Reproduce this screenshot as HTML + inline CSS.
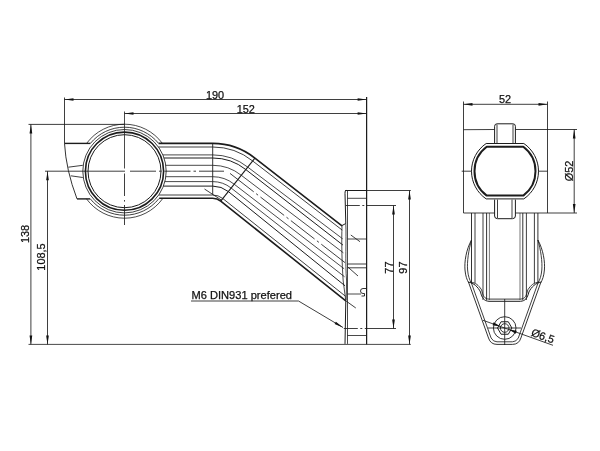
<!DOCTYPE html>
<html><head><meta charset="utf-8"><title>Drawing</title>
<style>
html,body{margin:0;padding:0;background:#fff;}
svg{display:block;filter:grayscale(1);}
svg *{vector-effect:none;}
text{font-family:"Liberation Sans",sans-serif;fill:#111;stroke:#111;stroke-width:0.25px;}
</style></head><body>
<svg width="600" height="451" viewBox="0 0 600 451" fill="none" stroke="#1c1c1c" stroke-linecap="butt" stroke-linejoin="round">
<rect x="0" y="0" width="600" height="451" fill="#ffffff" stroke="none"/>
<path d="M86.60,143.40 A47,47 0 0 1 162.40,143.40" stroke-width="0.8" />
<path d="M90.39,143.40 A44,44 0 0 1 158.61,143.40" stroke-width="0.85" />
<path d="M86.31,198.60 A47,47 0 0 0 162.69,198.60" stroke-width="0.8" />
<path d="M90.07,198.60 A44,44 0 0 0 158.93,198.60" stroke-width="0.85" />
<circle cx="124.50" cy="171.20" r="41.70" stroke-width="0.85" />
<circle cx="124.50" cy="171.20" r="39.10" stroke-width="1.6" />
<circle cx="124.50" cy="171.20" r="36.50" stroke-width="1.0" />
<line x1="64.50" y1="143.40" x2="90.39" y2="143.40" stroke-width="1.4" />
<path d="M64.5,143.4 Q66,170 77,198.9" stroke-width="0.9" />
<line x1="77.00" y1="198.90" x2="90.07" y2="198.90" stroke-width="1.4" />
<line x1="68.30" y1="167.20" x2="82.80" y2="165.30" stroke-width="0.85" />
<line x1="70.80" y1="175.80" x2="82.80" y2="177.50" stroke-width="0.85" />
<path d="M158.61,143.40 L212.70,143.40 A67.80,67.80 0 0 1 254.91,158.14 L342.00,225.80" stroke-width="1.6" />
<path d="M158.46,147.00 L212.70,147.00 A64.20,64.20 0 0 1 252.67,160.96 L342.22,230.10" stroke-width="0.85" />
<path d="M162.88,154.90 L212.70,154.90 A56.30,56.30 0 0 1 247.75,167.14 L342.66,238.80" stroke-width="0.8" />
<path d="M164.06,158.00 L212.70,158.00 A53.20,53.20 0 0 1 245.82,169.57 L342.98,245.10" stroke-width="1.0" />
<path d="M165.78,165.30 L212.70,165.30 A45.90,45.90 0 0 1 241.27,175.28 L343.37,252.80" stroke-width="0.8" />
<path d="M165.84,176.70 L212.70,176.70 A34.50,34.50 0 0 1 234.18,184.20 L344.18,268.80" stroke-width="0.8" />
<path d="M164.88,181.60 L212.70,181.60 A29.60,29.60 0 0 1 231.13,188.03 L344.58,276.80" stroke-width="0.8" />
<path d="M163.45,186.10 L212.70,186.10 A25.10,25.10 0 0 1 228.33,191.56 L345.04,285.80" stroke-width="1.0" />
<path d="M158.74,195.00 L212.70,195.00 A16.20,16.20 0 0 1 222.78,198.52 L345.57,296.30" stroke-width="0.85" />
<path d="M159.16,198.30 L212.70,198.30 A12.90,12.90 0 0 1 220.73,201.10 L345.80,300.80" stroke-width="1.6" />
<line x1="212.70" y1="143.40" x2="212.70" y2="194.70" stroke-width="0.9" />
<line x1="204.50" y1="189.00" x2="222.00" y2="200.50" stroke-width="0.85" />
<line x1="254.91" y1="158.14" x2="220.73" y2="201.10" stroke-width="1.1" />
<line x1="45.00" y1="171.20" x2="125.00" y2="171.20" stroke-width="0.85" />
<line x1="130.00" y1="171.20" x2="224.00" y2="171.20" stroke-width="0.85" stroke-dasharray="26 3 2.5 3"/>
<line x1="230.02" y1="173.42" x2="347.82" y2="264.80" stroke-width="0.85" stroke-dasharray="30 3 2.5 3"/>
<line x1="124.50" y1="111.50" x2="124.50" y2="168.50" stroke-width="0.8" />
<line x1="124.50" y1="173.50" x2="124.50" y2="196.00" stroke-width="0.85" />
<line x1="124.50" y1="200.00" x2="124.50" y2="201.60" stroke-width="0.85" />
<line x1="124.50" y1="205.00" x2="124.50" y2="225.00" stroke-width="0.85" />
<line x1="366.60" y1="97.00" x2="366.60" y2="344.40" stroke-width="1.25" />
<line x1="345.30" y1="190.50" x2="410.80" y2="190.50" stroke-width="0.85" />
<line x1="345.30" y1="190.50" x2="366.60" y2="190.50" stroke-width="1.0" />
<path d="M346.3,190.5 Q344.6,190.5 345,193.5 L345.8,223.5 L341.5,225.8" stroke-width="1.0" />
<line x1="347.50" y1="190.50" x2="347.50" y2="343.90" stroke-width="0.8" />
<path d="M345.8,300.8 L345,343.9" stroke-width="1.0" />
<line x1="347.50" y1="198.30" x2="366.60" y2="198.30" stroke-width="0.8" />
<line x1="347.50" y1="239.00" x2="366.60" y2="239.00" stroke-width="0.8" />
<line x1="347.50" y1="264.00" x2="366.60" y2="264.00" stroke-width="0.85" />
<line x1="347.50" y1="267.80" x2="366.60" y2="267.80" stroke-width="0.85" />
<line x1="347.50" y1="335.50" x2="366.60" y2="335.50" stroke-width="0.8" />
<line x1="347.50" y1="294.00" x2="361.00" y2="294.00" stroke-width="0.8" />
<path d="M366.7,288.5 L363,288.5 A2.4,2.4 0 0 0 363,293.5 L364.5,293.5 L364.5,296 L361.5,296" stroke-width="0.9" />
<line x1="350.80" y1="235.00" x2="360.00" y2="241.70" stroke-width="0.85" />
<line x1="347.50" y1="266.70" x2="358.00" y2="276.00" stroke-width="0.85" />
<line x1="345.80" y1="300.80" x2="355.80" y2="308.00" stroke-width="0.85" />
<line x1="345.80" y1="205.50" x2="372.00" y2="205.50" stroke-width="0.85" stroke-dasharray="14 2.5 2 2.5"/>
<line x1="372.00" y1="205.50" x2="396.00" y2="205.50" stroke-width="0.85" />
<line x1="343.80" y1="328.50" x2="372.00" y2="328.50" stroke-width="0.85" stroke-dasharray="14 2.5 2 2.5"/>
<line x1="372.00" y1="328.50" x2="396.00" y2="328.50" stroke-width="0.85" />
<path d="M342,225.8 C341.5,240 341.8,262 343.2,281 L345.8,300.8" stroke-width="0.8" />
<path d="M345.8,223.5 C346.5,240 345,262 346.6,281 L346.2,300" stroke-width="0.8" />
<line x1="28.50" y1="344.40" x2="410.80" y2="344.40" stroke-width="0.8" />
<line x1="64.50" y1="97.50" x2="64.50" y2="143.40" stroke-width="0.85" />
<line x1="64.50" y1="99.50" x2="366.60" y2="99.50" stroke-width="0.85" />
<polygon points="64.50,99.50 73.50,98.15 73.50,100.85" fill="#111" stroke="none"/>
<polygon points="366.60,99.50 357.60,100.85 357.60,98.15" fill="#111" stroke="none"/>
<line x1="124.50" y1="113.50" x2="366.60" y2="113.50" stroke-width="0.85" />
<polygon points="124.50,113.50 133.50,112.15 133.50,114.85" fill="#111" stroke="none"/>
<polygon points="366.60,113.50 357.60,114.85 357.60,112.15" fill="#111" stroke="none"/>
<text x="215.00" y="98.90" font-size="10.9" text-anchor="middle">190</text>
<text x="245.80" y="113.00" font-size="10.9" text-anchor="middle">152</text>
<line x1="28.50" y1="124.40" x2="124.50" y2="124.40" stroke-width="0.85" />
<line x1="30.90" y1="124.40" x2="30.90" y2="344.40" stroke-width="0.85" />
<polygon points="30.90,124.40 32.25,133.40 29.55,133.40" fill="#111" stroke="none"/>
<polygon points="30.90,344.40 29.55,335.40 32.25,335.40" fill="#111" stroke="none"/>
<line x1="47.50" y1="171.20" x2="47.50" y2="344.40" stroke-width="0.85" />
<polygon points="47.50,171.20 48.85,180.20 46.15,180.20" fill="#111" stroke="none"/>
<polygon points="47.50,344.40 46.15,335.40 48.85,335.40" fill="#111" stroke="none"/>
<text x="29.20" y="234.00" font-size="10.9" text-anchor="middle" transform="rotate(-90 29.20 234.00)">138</text>
<text x="45.00" y="257.00" font-size="10.9" text-anchor="middle" transform="rotate(-90 45.00 257.00)">108,5</text>
<line x1="393.50" y1="205.50" x2="393.50" y2="328.50" stroke-width="0.85" />
<polygon points="393.50,205.50 394.85,214.50 392.15,214.50" fill="#111" stroke="none"/>
<polygon points="393.50,328.50 392.15,319.50 394.85,319.50" fill="#111" stroke="none"/>
<line x1="409.50" y1="190.50" x2="409.50" y2="344.40" stroke-width="0.85" />
<polygon points="409.50,190.50 410.85,199.50 408.15,199.50" fill="#111" stroke="none"/>
<polygon points="409.50,344.40 408.15,335.40 410.85,335.40" fill="#111" stroke="none"/>
<text x="392.90" y="267.60" font-size="10.9" text-anchor="middle" transform="rotate(-90 392.90 267.60)">77</text>
<text x="407.30" y="267.60" font-size="10.9" text-anchor="middle" transform="rotate(-90 407.30 267.60)">97</text>
<text x="191.50" y="299.00" font-size="11.1" text-anchor="start">M6 DIN931 prefered</text>
<path d="M191,301 L298.5,301 L343,327.5" stroke-width="0.85" />
<polygon points="343.00,327.50 334.60,324.01 335.93,321.78" fill="#111" stroke="none"/>
<line x1="463.50" y1="101.50" x2="463.50" y2="213.00" stroke-width="0.85" />
<line x1="547.50" y1="101.50" x2="547.50" y2="213.00" stroke-width="0.85" />
<line x1="463.50" y1="104.30" x2="547.50" y2="104.30" stroke-width="0.85" />
<polygon points="463.50,104.30 472.50,102.95 472.50,105.65" fill="#111" stroke="none"/>
<polygon points="547.50,104.30 538.50,105.65 538.50,102.95" fill="#111" stroke="none"/>
<text x="505.00" y="102.60" font-size="10.9" text-anchor="middle">52</text>
<line x1="463.50" y1="129.70" x2="494.60" y2="129.50" stroke-width="0.85" />
<line x1="515.40" y1="129.50" x2="577.00" y2="129.50" stroke-width="0.85" />
<line x1="463.50" y1="213.00" x2="494.60" y2="213.00" stroke-width="0.85" />
<line x1="515.40" y1="213.00" x2="577.00" y2="213.00" stroke-width="0.85" />
<line x1="574.20" y1="129.50" x2="574.20" y2="213.00" stroke-width="0.85" />
<polygon points="574.20,129.50 575.55,138.50 572.85,138.50" fill="#111" stroke="none"/>
<polygon points="574.20,213.00 572.85,204.00 575.55,204.00" fill="#111" stroke="none"/>
<text x="573.00" y="171.00" font-size="10.9" text-anchor="middle" transform="rotate(-90 573.00 171.00)">&#216;52</text>
<path d="M486.16,143.50 L523.84,143.50 A33.5,33.5 0 0 1 523.84,198.90 L486.16,198.90 A33.5,33.5 0 0 1 486.16,143.50 Z" stroke-width="1.0" />
<path d="M486.70,146.80 L523.30,146.80 A30.5,30.5 0 0 1 523.30,195.60 L486.70,195.60 A30.5,30.5 0 0 1 486.70,146.80 Z" stroke-width="2.0" />
<line x1="461.70" y1="171.20" x2="471.50" y2="171.20" stroke-width="0.85" />
<line x1="538.50" y1="171.20" x2="547.50" y2="171.20" stroke-width="0.85" />
<path d="M494.6,143 L494.6,126.3 Q494.6,123.8 497.1,123.8 L512.9,123.8 Q515.4,123.8 515.4,126.3 L515.4,143" stroke-width="1.0" />
<line x1="497.00" y1="124.50" x2="497.00" y2="143.00" stroke-width="0.85" />
<line x1="513.00" y1="124.50" x2="513.00" y2="143.00" stroke-width="0.85" />
<path d="M494.6,199.6 L494.6,216 Q494.6,218.7 497.6,218.7 L512.4,218.7 Q515.4,218.7 515.4,216 L515.4,199.6" stroke-width="1.0" />
<line x1="497.50" y1="199.60" x2="497.50" y2="218.00" stroke-width="0.85" />
<line x1="512.00" y1="199.60" x2="512.00" y2="218.00" stroke-width="0.85" />
<line x1="471.50" y1="213.00" x2="471.50" y2="283.00" stroke-width="0.9" />
<line x1="537.90" y1="213.00" x2="537.90" y2="283.00" stroke-width="0.9" />
<line x1="475.00" y1="213.00" x2="475.00" y2="283.00" stroke-width="0.85" />
<line x1="534.40" y1="213.00" x2="534.40" y2="283.00" stroke-width="0.85" />
<line x1="483.00" y1="213.00" x2="483.00" y2="300.00" stroke-width="0.85" />
<line x1="526.40" y1="213.00" x2="526.40" y2="300.00" stroke-width="0.85" />
<line x1="486.60" y1="213.00" x2="486.60" y2="300.00" stroke-width="0.9" />
<line x1="522.80" y1="213.00" x2="522.80" y2="300.00" stroke-width="0.9" />
<line x1="489.40" y1="213.00" x2="489.40" y2="300.00" stroke-width="0.6" />
<line x1="520.00" y1="213.00" x2="520.00" y2="300.00" stroke-width="0.6" />
<path d="M468.00,282 C474.00,283 478.00,287.00 480.50,292.00 C482.00,298.00 484.00,301.00 489.00,301.30 L520.40,301.30 C525.40,301.00 527.40,298.00 528.90,292.00 C531.40,287.00 535.40,283 541.40,282" stroke-width="1.0" />
<path d="M470.20,282 C476.20,283 478.00,284.80 481.60,289.80 C483.10,295.80 484.00,298.80 489.00,299.10 L520.40,299.10 C525.40,298.80 526.30,295.80 527.80,289.80 C531.40,284.80 533.20,283 539.20,282" stroke-width="0.85" />
<path d="M471.50,240 C466.00,250 464.30,262 465.00,270 C465.50,276 467.00,280 468.80,283 L488.50,338 Q490.50,344.40 497.00,344.40 L512.40,344.40 Q518.90,344.40 520.90,338 L540.60,283 C542.40,280 543.90,276 544.40,270 C545.10,262 543.40,250 537.90,240" stroke-width="0.9" />
<path d="M471.50,240 C468.60,250 466.90,262 467.60,270 C468.10,276 469.60,280 471.40,283 L491.10,338 Q493.10,341.80 497.00,341.80 L512.40,341.80 Q516.30,341.80 518.30,338 L538.00,283 C539.80,280 541.30,276 541.80,270 C542.50,262 540.80,250 537.90,240" stroke-width="0.85" />
<circle cx="504.70" cy="328.00" r="11.30" stroke-width="0.9" />
<circle cx="504.70" cy="328.00" r="4.30" stroke-width="0.9" />
<polygon points="511.90,328.00 508.30,334.24 501.10,334.24 497.50,328.00 501.10,321.76 508.30,321.76" stroke-width="1.0"/>
<line x1="504.70" y1="299.00" x2="504.70" y2="345.00" stroke-width="0.85" />
<line x1="488.00" y1="328.00" x2="521.00" y2="328.00" stroke-width="0.85" />
<line x1="483.00" y1="320.30" x2="553.00" y2="345.30" stroke-width="0.85" />
<polygon points="500.65,326.55 492.58,325.37 493.65,322.36" fill="#111" stroke="none"/>
<polygon points="508.75,329.45 516.82,330.63 515.75,333.64" fill="#111" stroke="none"/>
<text x="541.50" y="339.50" font-size="10.9" text-anchor="middle" transform="rotate(19.65382405805331 541.50 339.50)">&#216;6,5</text>
</svg>
</body></html>
